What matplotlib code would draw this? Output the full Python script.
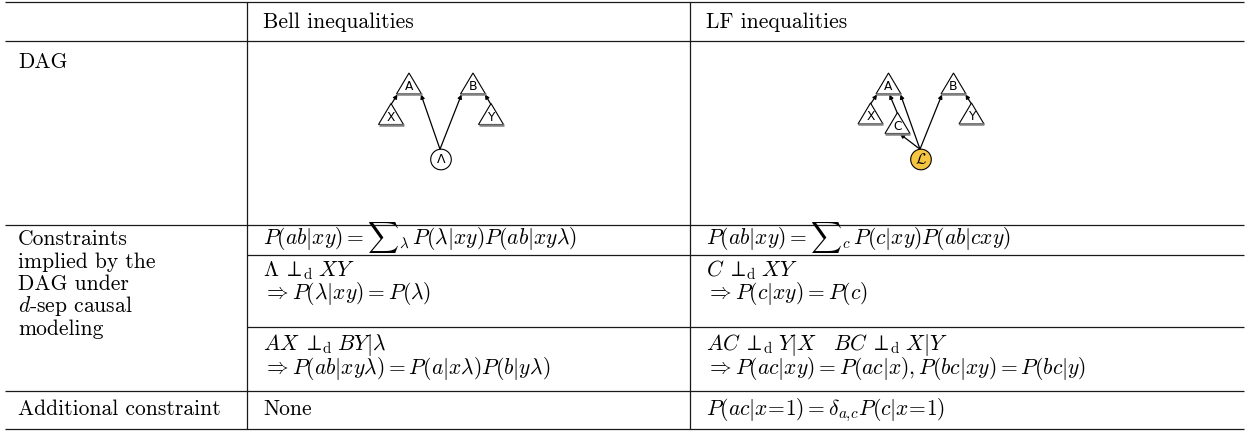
import matplotlib.pyplot as plt
from matplotlib.patches import Polygon, Circle

plt.rcParams['font.family'] = 'serif'
plt.rcParams['font.serif'] = ['cmr10']
plt.rcParams['mathtext.fontset'] = 'cm'
plt.rcParams['axes.formatter.use_mathtext'] = True

# table content
headers = ['Bell inequalities', 'LF inequalities']
dag_label = 'DAG'
constraint_label = ['Constraints', 'implied by the', 'DAG under', '$d$-sep causal', 'modeling']
extra_label = 'Additional constraint'

PERP = r'\;{\perp\!}_{\mathrm{d}}\;'
bell_cells = [
    [r'$P(ab|xy) = {\sum}_{\lambda}\, P(\lambda|xy)P(ab|xy\lambda)$'],
    [r'$\Lambda' + PERP + r'XY$', r'$\Rightarrow P(\lambda|xy) = P(\lambda)$'],
    [r'$AX' + PERP + r'BY|\lambda$', r'$\Rightarrow P(ab|xy\lambda) = P(a|x\lambda)P(b|y\lambda)$'],
]
lf_cells = [
    [r'$P(ab|xy) = {\sum}_{c}\, P(c|xy)P(ab|cxy)$'],
    [r'$C' + PERP + r'XY$', r'$\Rightarrow P(c|xy) = P(c)$'],
    [r'$AC' + PERP + r'Y|X \quad BC' + PERP + r'X|Y$',
     r'$\Rightarrow P(ac|xy) = P(ac|x), P(bc|xy) = P(bc|y)$'],
]
bell_extra = 'None'
lf_extra = r'$P(ac|x\!=\!1) = \delta_{a,\!c}P(c|x\!=\!1)$'

# DAG structure: triangle nodes (apex offset from the source circle) and edges
bell_nodes = {'A': (-32, -86.5), 'B': (32, -86.5), 'X': (-50, -56), 'Y': (50, -56)}
bell_edges = [('X', 'A', 'left'), ('L', 'A', 'right'), ('L', 'B', 'left'), ('Y', 'B', 'right')]
lf_nodes = {'A': (-32.5, -86.5), 'B': (32.5, -86.5), 'X': (-50.5, -56.5),
            'Y': (50.5, -56.5), 'C': (-23.5, -47)}
lf_edges = [('X', 'A', 'left'), ('C', 'A', 'mid'), ('L', 'A', 'right'),
            ('L', 'C', 'near'), ('L', 'B', 'left'), ('Y', 'B', 'right')]

fig = plt.figure(figsize=(12.5, 4.34), dpi=100)
ax = fig.add_axes([0, 0, 1, 1])
ax.set_xlim(0, 1250)
ax.set_ylim(434, 0)
ax.axis('off')

FS = 15.5
LS = 22.5
lc = '#1a1a1a'

# grid lines
for y in [2, 41, 225, 391, 429]:
    ax.plot([5, 1244], [y, y], color=lc, lw=0.9, solid_capstyle='butt')
for y in [255, 327]:
    ax.plot([247, 1244], [y, y], color=lc, lw=0.9, solid_capstyle='butt')
for x in [247, 689.5]:
    ax.plot([x, x], [2, 429], color=lc, lw=0.9, solid_capstyle='butt')

x_left, x_bell, x_lf = 18, 263, 706

def put(x, y, s):
    ax.text(x, y, s, fontsize=FS, va='baseline', ha='left', color='black')

put(x_bell, 28.5, headers[0])
put(x_lf, 28.5, headers[1])
put(x_left, 68.5, dag_label)
for i, s in enumerate(constraint_label):
    put(x_left, 245 + LS * i, s)
put(x_left, 415, extra_label)

row_base = [[245], [276.5, 276.5 + LS], [349.5, 374]]
for cells, x0 in [(bell_cells, x_bell), (lf_cells, x_lf)]:
    for lines, ys in zip(cells, row_base):
        for s, y in zip(lines, ys):
            put(x0, y, s)
put(x_bell, 415, bell_extra)
put(x_lf, 415, lf_extra)

# DAG drawings
TW, TH = 12.5, 21
END_OFF = {'left': -TW + 1, 'right': TW - 0.5, 'mid': 1, 'near': 2.5}

def draw_dag(cx, cy, nodes, edges, fill, label):
    for name, (dx, dy) in nodes.items():
        ax0, ay0 = cx + dx, cy + dy
        tri = Polygon([(ax0, ay0), (ax0 - TW, ay0 + TH), (ax0 + TW, ay0 + TH)],
                      closed=True, facecolor='white', edgecolor='black', lw=0.8, zorder=3)
        ax.add_patch(tri)
        ax.plot([ax0 - TW, ax0 + TW], [ay0 + TH, ay0 + TH], color='#808080',
                lw=1.8, zorder=4, solid_capstyle='butt')
        ax.text(ax0, ay0 + 14, name, fontsize=8.8, family='DejaVu Sans',
                ha='center', va='center', zorder=5)
    r = 10.3
    ax.add_patch(Circle((cx, cy), r, facecolor=fill, edgecolor='black', lw=0.8, zorder=3))
    if label == 'L':
        ax.text(cx, cy + 0.5, r'$\mathcal{L}$', fontsize=11, ha='center', va='center', zorder=5)
    else:
        ax.text(cx, cy, '\u039b', fontsize=9, family='DejaVu Sans',
                ha='center', va='center', zorder=5)
    for src, dst, where in edges:
        if src == 'L':
            start = (cx - 1, cy - r)
        else:
            sx, sy = nodes[src]
            start = (cx + sx, cy + sy + 1)
        dx, dy = nodes[dst]
        bx = cx + dx + END_OFF[where]
        by = cy + dy + TH + 0.5
        ax.annotate('', xy=(bx, by), xytext=start,
                    arrowprops=dict(arrowstyle='-|>', lw=0.9, color='black',
                                    mutation_scale=6, shrinkA=0, shrinkB=0),
                    zorder=2)

draw_dag(441, 159.5, bell_nodes, bell_edges, 'white', 'Lambda')
draw_dag(921, 159.5, lf_nodes, lf_edges, '#F5C542', 'L')

fig.savefig('out.png', dpi=100)
